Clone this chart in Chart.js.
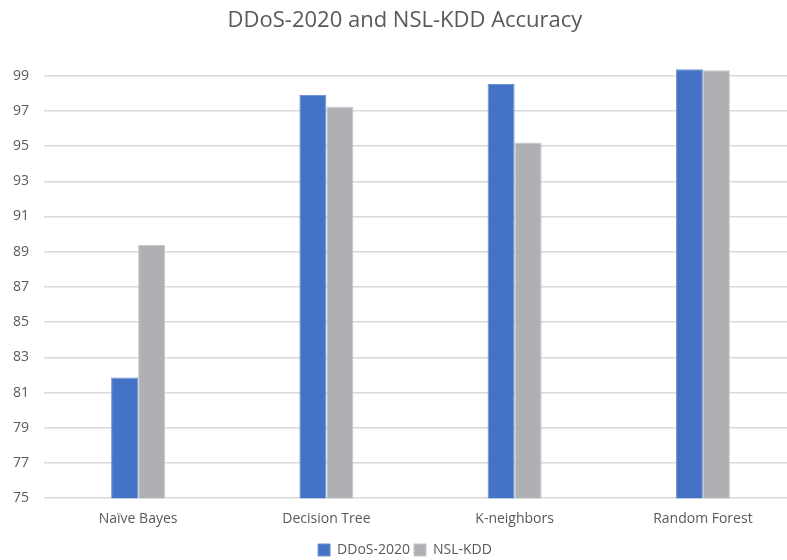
<!DOCTYPE html>
<html>
<head>
<meta charset="utf-8">
<script src="https://cdn.jsdelivr.net/npm/chart.js@4"></script>
<style>
  html, body { margin: 0; padding: 0; overflow: hidden; background: #fff; }
  #wrap { width: 809px; height: 560px; }
</style>
</head>
<body>
<div id="wrap"><canvas id="accChart"></canvas></div>
<script>
const categories = ["Naïve Bayes", "Decision Tree", "K-neighbors", "Random Forest"];
const ddosValues = [81.85, 97.9, 98.53, 99.36];
const nslValues = [89.38, 97.23, 95.2, 99.3];
const tickValues = [75, 77, 79, 81, 83, 85, 87, 89, 91, 93, 95, 97, 99];

const textColor = "#595959";
const fontFamily = "'Open Sans', sans-serif";

const ctx = document.getElementById("accChart");

new Chart(ctx, {
  type: "bar",
  data: {
    labels: categories,
    datasets: [
      {
        label: "DDoS-2020",
        data: ddosValues,
        backgroundColor: "#4472C4",
        borderColor: "#6f93d3",
        borderWidth: 1,
      },
      {
        label: "NSL-KDD",
        data: nslValues,
        backgroundColor: "#AFB0B3",
        borderColor: "#c6c7ca",
        borderWidth: 1,
      },
    ],
  },
  options: {
    responsive: true,
    maintainAspectRatio: false,
    animation: false,
    layout: {
      padding: { left: 13, right: 12, top: 8, bottom: -7 }
    },
    datasets: {
      bar: {
        categoryPercentage: 0.287,
        barPercentage: 1.0,
      }
    },
    plugins: {
      title: {
        display: true,
        text: "DDoS-2020 and NSL-KDD Accuracy",
        color: textColor,
        font: { family: fontFamily, size: 22, weight: "normal" },
        padding: { top: 0, bottom: 6 }
      },
      legend: {
        position: "bottom",
        labels: {
          color: textColor,
          font: { family: fontFamily, size: 14 },
          boxWidth: 12,
          boxHeight: 12,
          padding: 4,
        }
      },
      tooltip: { enabled: false }
    },
    scales: {
      x: {
        grid: { display: false, drawTicks: false },
        border: { display: false },
        ticks: {
          color: textColor,
          font: { family: fontFamily, size: 14 },
          padding: 12,
        }
      },
      y: {
        min: 75,
        max: 101,
        border: { display: false },
        grid: {
          drawTicks: false,
          color: (c) => (tickValues.includes(c.tick && c.tick.value) ? "#d9d9d9" : "rgba(0,0,0,0)"),
          lineWidth: 1.5,
        },
        afterBuildTicks: (axis) => {
          axis.ticks = tickValues.concat([101]).map((v) => ({ value: v }));
        },
        afterFit: (axis) => {
          axis.width = 31;
        },
        ticks: {
          color: textColor,
          font: { family: fontFamily, size: 14 },
          crossAlign: "far",
          padding: 12,
          callback: (v) => (tickValues.includes(v) ? v : ""),
        }
      }
    }
  }
});
</script>
</body>
</html>
